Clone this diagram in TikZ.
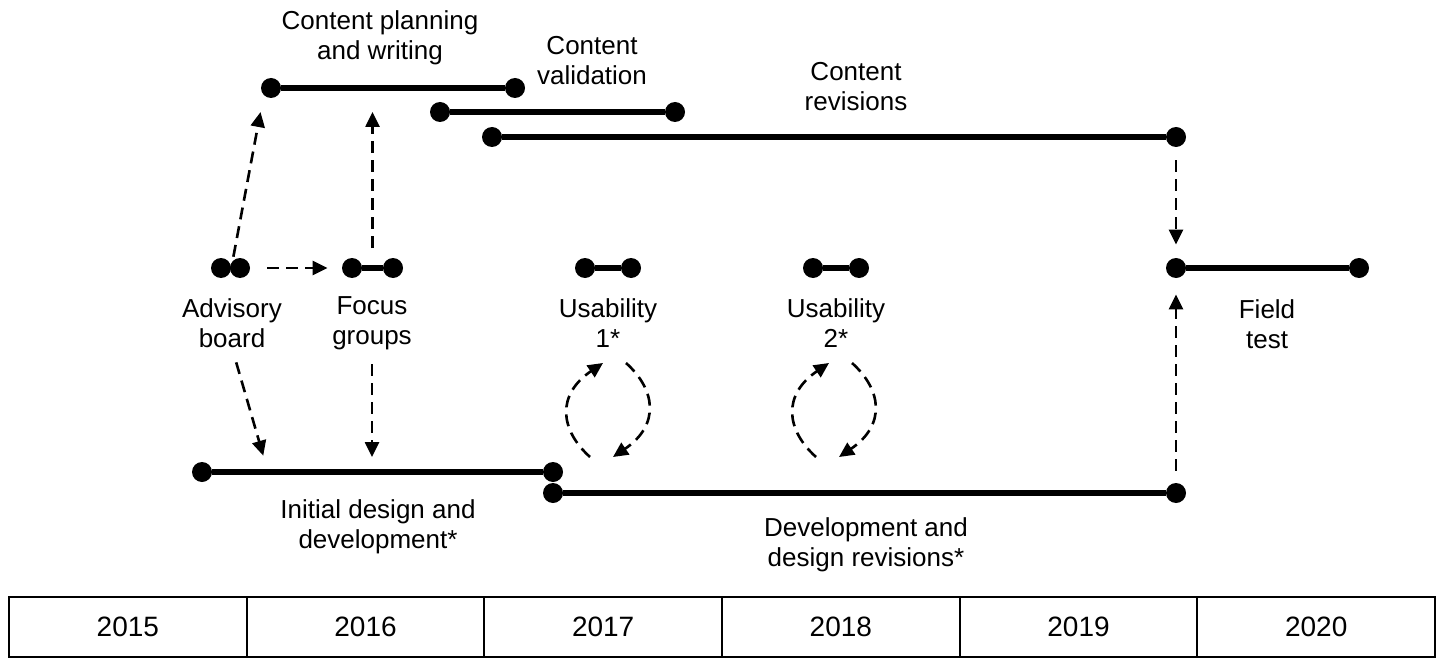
\documentclass[tikz,border=0pt]{standalone}
\usepackage{fontspec}
\setmainfont{Liberation Sans}
\usepackage{tikz}
\usetikzlibrary{arrows.meta}
\tikzstyle{dotnode}=[black, shape=circle, fill=black, minimum size=10pt, inner sep=0pt]
\tikzstyle{barline}=[line width=2.6pt, color=black]
\tikzstyle{labelnode}=[black, align=center, inner sep=0pt, font=\fontsize{13}{15}\selectfont]
\tikzstyle{flowarrow}=[-{Triangle[length=7.5pt, width=7pt]}, line width=1.3pt, dash pattern=on 6pt off 3.5pt, color=black]
\tikzstyle{yearcell}=[black, draw=black, line width=1pt, minimum width=118.83pt, minimum height=30pt, inner sep=0pt, font=\fontsize{14}{16}\selectfont]

\begin{document}
\begin{tikzpicture}[x=0.5pt, y=-0.5pt]
\useasboundingbox (0,0) rectangle (1438,663);

\node [dotnode] (cpw-s) at (271,88) {};
\node [dotnode] (cpw-e) at (515,88) {};
\node [dotnode] (val-s) at (440,112) {};
\node [dotnode] (val-e) at (675,112) {};
\node [dotnode] (rev-s) at (492,137) {};
\node [dotnode] (rev-e) at (1176,137) {};
\node [dotnode] (adv-a) at (221,268) {};
\node [dotnode] (adv-b) at (240,268) {};
\node [dotnode] (foc-s) at (352,268) {};
\node [dotnode] (foc-e) at (393,268) {};
\node [dotnode] (us1-s) at (585,268) {};
\node [dotnode] (us1-e) at (631,268) {};
\node [dotnode] (us2-s) at (813,268) {};
\node [dotnode] (us2-e) at (859,268) {};
\node [dotnode] (fld-s) at (1176,268) {};
\node [dotnode] (fld-e) at (1359,268) {};
\node [dotnode] (idd-s) at (202,472) {};
\node [dotnode] (idd-e) at (553,472) {};
\node [dotnode] (ddr-s) at (553,493) {};
\node [dotnode] (ddr-e) at (1176,493) {};

\node [labelnode] (cpw-lbl) at (380,38) {Content planning\\and writing};
\node [labelnode] (val-lbl) at (592,61) {Content\\validation};
\node [labelnode] (rev-lbl) at (856,87) {Content\\revisions};
\node [labelnode] (adv-lbl) at (232,323) {Advisory\\board};
\node [labelnode] (foc-lbl) at (372,323) {Focus\\groups};
\node [labelnode] (us1-lbl) at (608,323) {Usability\\1*};
\node [labelnode] (us2-lbl) at (836,323) {Usability\\2*};
\node [labelnode] (fld-lbl) at (1267,324) {Field\\test};
\node [labelnode] (idd-lbl) at (378,527) {Initial design and\\development*};
\node [labelnode] (ddr-lbl) at (866,545) {Development and\\design revisions*};

\draw[barline] (cpw-s) -- (cpw-e);
\draw[barline] (val-s) -- (val-e);
\draw[barline] (rev-s) -- (rev-e);
\draw[barline] (foc-s) -- (foc-e);
\draw[barline] (us1-s) -- (us1-e);
\draw[barline] (us2-s) -- (us2-e);
\draw[barline] (fld-s) -- (fld-e);
\draw[barline] (idd-s) -- (idd-e);
\draw[barline] (ddr-s) -- (ddr-e);

\path (foc-s) -- (foc-e) coordinate[midway] (foc-m);
\coordinate (idd-a) at (268,472);

\draw[flowarrow, shorten <=2pt, shorten >=8.5pt] (adv-b.north west) -- (cpw-s.south west);
\draw[flowarrow, shorten <=8.5pt, shorten >=7pt] (adv-b) -- (foc-s);
\draw[flowarrow, shorten <=10pt, shorten >=12pt] (foc-m) -- (foc-m |- cpw-s);
\draw[flowarrow, shorten <=7.5pt, shorten >=8.5pt] (adv-lbl.south) -- (idd-a);
\draw[flowarrow, shorten <=7pt, shorten >=7.5pt] (foc-lbl.south) -- (foc-lbl.south |- idd-s);
\draw[flowarrow, shorten <=6.5pt, shorten >=6.5pt] (rev-e) -- (fld-s);
\draw[flowarrow, shorten <=6pt, shorten >=8pt] (ddr-e) -- (fld-s);

\foreach \cx in {608,834}
{
\begin{scope}[shift={(\cx,410)}]
\draw[flowarrow] (-18,47) .. controls (-48,20) and (-52,-15) .. (-5,-47);
\draw[flowarrow] (18,-47) .. controls (48,-20) and (52,15) .. (5,47);
\end{scope}
}

\foreach \yr [count=\i from 0] in {2015,2016,2017,2018,2019,2020}
  \node [yearcell] (y\yr) at ({9+237.67*(\i+0.5)},627) {\yr};
\end{tikzpicture}
\end{document}
